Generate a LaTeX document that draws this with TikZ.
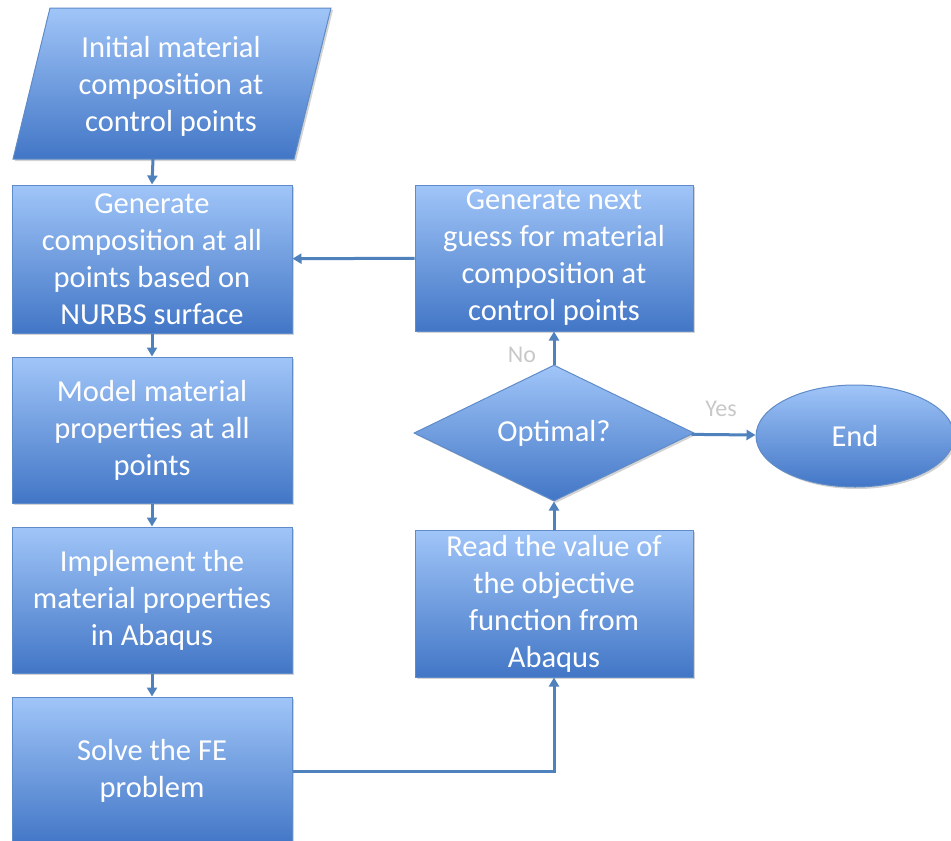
\documentclass[tikz,border=0pt]{standalone}
\usepackage{fontspec}
\setmainfont{Carlito}
\usetikzlibrary{shapes.geometric,arrows.meta,shadows}
\definecolor{boxtop}{RGB}{160,197,248}
\definecolor{boxbot}{RGB}{66,118,198}
\definecolor{boxline}{RGB}{95,140,200}
\definecolor{arrowc}{RGB}{79,129,189}
\definecolor{lblc}{RGB}{200,200,200}

\begin{document}
\begin{tikzpicture}[x=1pt,y=-1pt,
  fillstyle/.style={top color=boxtop,bottom color=boxbot,draw=boxline,line width=1pt,
    drop shadow={opacity=0.35,shadow xshift=2pt,shadow yshift=-2pt}},
  txt/.style={text=white,font=\fontsize{30.5}{37}\selectfont,align=center},
  procbox/.style={fillstyle,txt,rectangle,inner sep=0pt,minimum width=280pt},
  decision/.style={fillstyle,txt,diamond,inner sep=0pt,aspect=2,minimum width=280pt,minimum height=136pt},
  terminal/.style={fillstyle,txt,ellipse,inner sep=0pt,minimum width=198pt,minimum height=102pt},
  flow/.style={draw=arrowc,line width=3pt,-{Triangle[length=9pt,width=10pt]}},
  branch/.style={text=lblc,font=\fontsize{24}{28}\selectfont}]

\useasboundingbox (0,0) rectangle (951,841);

% input step (parallelogram)
\path[fillstyle] (13,159) -- (50,8) -- (331,8) -- (294,159) -- cycle;
\node[txt] (init) at (171,86) {Initial material\\composition at\\control points};
\coordinate (initout) at (153,159);

% left column of process steps
\node[procbox,minimum height=148pt] (gen) at (152,259)
  {Generate\\composition at all\\points based on\\NURBS surface};
\node[procbox,minimum height=146pt] (model) at (152,430)
  {Model material\\properties at all\\points};
\node[procbox,minimum height=146pt] (impl) at (152,600)
  {Implement the\\material properties\\in Abaqus};
\node[procbox,minimum height=148pt] (solve) at (152,771)
  {Solve the FE\\problem};

% right column: evaluation loop
\node[procbox,minimum width=278pt,minimum height=147pt] (read) at (554,603.5)
  {Read the value of\\the objective\\function from\\Abaqus};
\node[decision] (opt) at (554,433) {Optimal?};
\node[procbox,minimum width=278pt,minimum height=146pt] (next) at (554,258)
  {Generate next\\guess for material\\composition at\\control points};
\node[terminal] (endn) at (855,436) {End};

% connectors
\draw[flow] (initout) -- (gen.north);
\draw[flow] (gen) -- (model);
\draw[flow] (model) -- (impl);
\draw[flow] (impl) -- (solve);
\draw[flow] (solve.east) -| (read.south);
\draw[flow] (read) -- (opt);
\draw[flow] (opt) -- (next);
\draw[flow] (opt) -- (endn);
\draw[flow] (next) -- (gen);

% branch labels
\node[branch] (nolbl) at (522,355) {No};
\node[branch] (yeslbl) at (721,409) {Yes};
\end{tikzpicture}
\end{document}
